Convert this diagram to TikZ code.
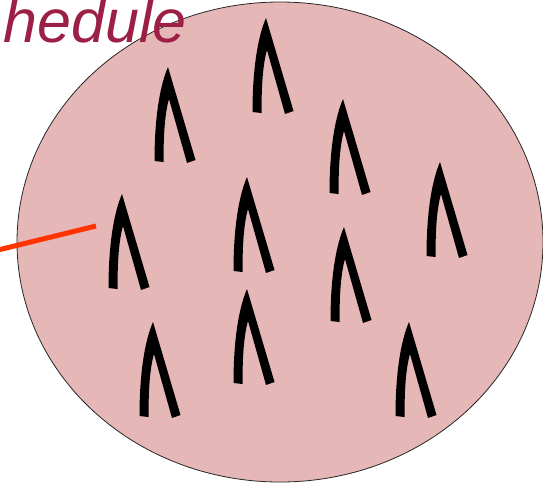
\documentclass[tikz,border=0pt]{standalone}
\usepackage{fontspec}
\newfontfamily\labelfont{Liberation Sans}
\definecolor{cellpink}{HTML}{E6B7B7}
\definecolor{titlered}{HTML}{9C1F46}
\definecolor{pointer}{HTML}{FF3300}
\tikzset{
  cell/.style={draw=black!85, line width=0.8pt, fill=cellpink},
  pointerline/.style={draw=pointer, line width=5pt},
  title/.style={text=titlered, font=\labelfont\itshape\fontsize{61}{61}\selectfont, inner sep=0pt},
  % a hand-drawn lambda-like mark, apex at the pic origin
  sprout/.pic={
    \fill[black] (-13.5,93) .. controls (-13.5,45) and (-7,15) .. (0,-1)
      -- (27.5,92) -- (19,95) -- (1,31)
      .. controls (-3,45) and (-4.5,65) .. (-4.5,94) -- cycle;
  }
}
\begin{document}
\begin{tikzpicture}[x=1pt, y=-1pt]
  \useasboundingbox (0,0) rectangle (543,483);
  \clip (0,0) rectangle (543,483);
  % the cell
  \path[cell] (280,242) ellipse [x radius=263, y radius=240];
  \node[inner sep=0pt] (cellc) at (280,242) {};
  % marks inside the cell
  \pic at (168,68) {sprout};
  \pic at (266,19) {sprout};
  \pic at (343,100) {sprout};
  \pic at (440,163) {sprout};
  \pic at (122,195) {sprout};
  \pic at (247,178) {sprout};
  \pic at (344,228) {sprout};
  \pic at (153,323) {sprout};
  \pic at (247,290) {sprout};
  \pic at (409,323) {sprout};
  % pointer into the cell
  \coordinate (ptail) at (-2,250);
  \coordinate (phead) at (96,226);
  \draw[pointerline] (ptail) -- (phead);
  % heading
  \node[title, anchor=base east] (heading) at (187,42) {hedule};
\end{tikzpicture}
\end{document}
